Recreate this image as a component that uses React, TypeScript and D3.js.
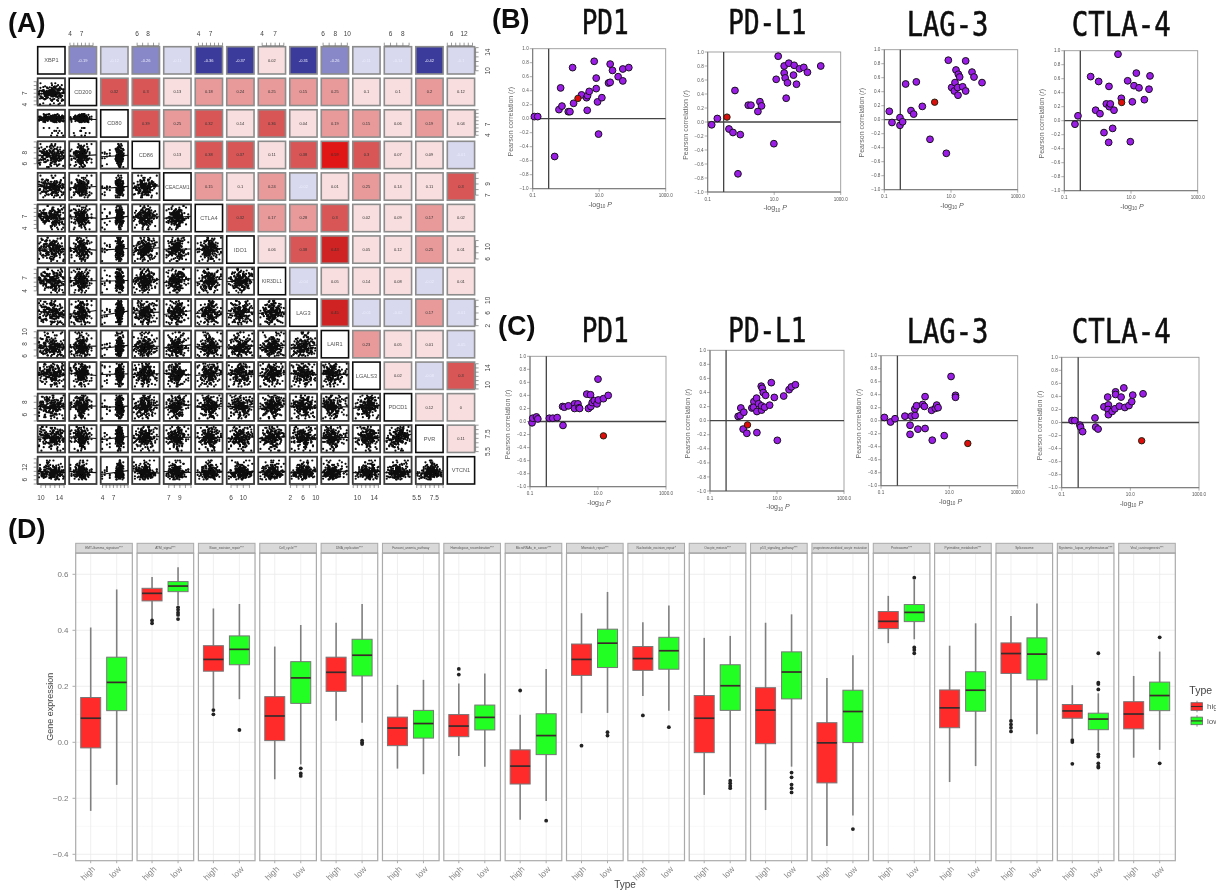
import React from 'react';
import * as d3 from 'd3';

// ---------- panel A: gene pairs ----------
const genes = ['XBP1', 'CD200', 'CD80', 'CD86', 'CEACAM1', 'CTLA4', 'IDO1', 'KIR3DL1', 'LAG3', 'LAIR1', 'LGALS3', 'PDCD1', 'PVR', 'VTCN1'];
const geneDomains = [[9.3, 15.2], [3.8, 10.9], [3.5, 11], [5.1, 10.1], [6.1, 11], [3.2, 10], [4.6, 13.5], [3.1, 9.4], [1.8, 10.4], [5.7, 10.2], [8.9, 15.4], [5, 9.4], [5.4, 8.5], [4, 17]];
const geneTickStep = [1, 1, 1, 1, 1, 1, 2, 1, 2, 1, 1, 1, 0.5, 2];
const geneLabels = [[10, 14], [4, 7], [4, 7], [6, 8], [7, 9], [4, 7], [6, 10], [4, 7], [2, 6, 10], [6, 8, 10], [10, 14], [6, 8], [5.5, 7.5], [6, 12]];

// upper triangle, row by row
const corrRows = [
  [-0.19, -0.12, -0.26, -0.11, -0.36, -0.37, 0.02, -0.31, -0.26, -0.11, -0.14, -0.42, -0.1],
  [0.32, 0.3, 0.13, 0.18, 0.24, 0.25, 0.15, 0.25, 0.1, 0.1, 0.2, 0.12],
  [0.39, 0.25, 0.32, 0.14, 0.36, 0.04, 0.19, 0.15, 0.06, 0.19, 0.04],
  [0.13, 0.38, 0.37, 0.11, 0.38, 0.59, 0.3, 0.07, 0.09, -0.01],
  [0.15, 0.1, 0.24, -0.02, 0.01, 0.25, 0.14, 0.11, 0.3],
  [0.32, 0.17, 0.28, 0.3, 0.02, 0.09, 0.17, 0.02],
  [0.06, 0.38, 0.43, 0.05, 0.12, 0.25, 0.01],
  [-0.04, 0.05, 0.14, 0.08, -0.02, 0.01],
  [0.45, -0.01, -0.02, 0.17, -0.01],
  [0.23, 0.05, 0.01, -0.05],
  [0.02, -0.08, 0.3],
  [0.12, 0.0],
  [0.11],
];

// sample values per gene, estimated from the clouds (too dense to read point by point)
const xbp1 = [14.8,12.6,14.1,13.3,10.4,13.9,12.1,14.5,11.3,13.6,14.9,12.9,10.9,13.8,12.4,14.3,11.8,13.1,14.6,12.7,13.5,11.1,12.8,14.0,10.2,13.2,12.3,13.7,11.6,14.2,12.5,10.7,13.4,12.0,13.0,11.4,13.6,9.9,12.6,11.9,12.2,13.3,10.5,12.9,11.2,13.1,9.6,12.4,11.7,10.1,12.7,11.0,13.0,9.8,12.1,11.5,10.6,12.3,10.8,11.3];
const cd200 = [5.2,6.1,4.4,6.8,5.7,6.3,7.4,5.0,6.5,6.0,7.1,5.5,6.6,4.1,6.9,5.9,7.6,6.2,5.4,6.7,7.0,6.4,7.8,6.9,5.8,7.2,6.6,8.1,7.3,6.1,7.5,6.8,7.0,5.6,7.7,6.5,7.1,8.4,6.3,7.4,7.9,7.2,8.6,6.7,7.6,8.2,7.0,9.1,7.5,6.9,8.0,7.3,8.8,7.7,6.4,8.3,7.8,9.6,7.1,8.5];
const cd80 = [3.9,8.1,7.7,5.2,8.4,7.9,8.0,4.6,8.6,8.2,7.8,8.5,7.6,8.3,8.7,8.0,6.0,8.4,7.9,8.8,8.5,9.0,8.2,8.7,8.4,7.8,9.1,8.6,8.9,8.3,8.7,9.2,8.1,8.8,8.5,9.0,8.6,8.3,9.3,8.7,8.9,9.4,8.6,9.1,8.8,9.5,8.4,9.0,9.7,8.9,9.2,8.7,9.6,9.0,9.3,8.5,9.8,9.1,9.4,8.8];
const cd86 = [5.6,6.4,6.9,5.9,7.2,6.5,6.1,7.0,5.4,6.7,7.4,6.3,6.8,5.8,7.1,6.6,7.5,6.2,6.9,7.3,7.0,7.6,6.7,7.3,8.0,7.2,6.6,7.8,7.4,8.2,7.1,7.7,6.9,7.5,8.1,7.3,7.9,6.8,7.6,8.3,8.0,7.5,8.6,7.8,8.2,7.4,8.8,8.1,7.7,9.0,8.4,7.9,8.7,8.3,9.3,8.0,8.5,9.6,8.2,9.1];
const ceacam1 = [7.2,8.1,6.6,8.6,7.6,8.9,7.9,7.0,8.3,9.3,7.5,8.4,6.9,8.0,9.0,7.7,8.5,7.3,8.8,8.2,8.4,7.4,9.1,8.0,8.7,7.8,9.4,8.3,7.1,8.6,8.9,7.6,9.2,8.1,8.5,9.6,7.9,8.8,8.2,9.0,8.6,7.7,9.3,8.4,9.8,8.1,8.9,7.5,9.1,8.7,10.1,8.3,9.5,8.0,8.8,9.7,8.5,10.5,9.0,8.6];
const ctla4 = [4.2,5.7,6.5,4.9,6.1,5.3,7.0,3.8,5.9,6.4,5.0,6.8,5.5,7.3,4.6,6.2,5.8,6.6,5.2,7.1,6.3,7.5,5.6,6.9,7.8,6.0,7.2,5.4,6.7,8.0,6.5,7.4,5.9,7.0,8.3,6.4,7.7,6.8,5.7,7.3,7.9,6.6,8.5,7.1,6.2,8.1,7.6,8.8,6.9,7.4,9.2,7.8,6.7,8.4,7.2,9.6,8.0,7.5,8.7,6.5];
const ido1 = [5.3,7.8,6.5,8.9,7.1,9.5,6.0,8.2,7.4,10.1,5.8,8.6,7.0,9.2,6.8,8.0,10.6,7.6,9.0,6.3,8.4,9.8,7.3,10.3,8.8,7.7,11.0,9.3,8.1,9.9,7.5,10.7,8.5,9.6,11.3,8.3,10.0,7.9,9.1,10.9,9.4,11.6,8.7,10.4,12.2,9.7,8.9,11.1,10.2,12.6,9.2,10.8,11.8,8.6,10.5,12.9,9.9,11.4,10.1,12.0];
const kir3dl1 = [3.6,5.1,6.2,4.4,5.7,4.0,6.6,5.3,4.8,6.0,7.1,5.5,4.6,6.4,5.0,7.4,5.9,6.8,4.2,6.1,5.6,6.9,5.2,7.6,6.3,4.9,7.0,5.8,6.5,8.0,5.4,6.7,7.3,6.0,4.7,7.8,6.2,5.7,7.2,6.6,6.9,5.3,8.3,6.4,7.5,5.9,7.1,8.7,6.1,7.7,6.8,5.6,8.1,7.0,6.3,9.0,7.4,6.5,8.4,7.9];
const lag3 = [2.4,4.2,3.1,5.0,3.7,5.8,4.5,2.9,6.2,3.4,5.4,4.0,6.6,4.8,3.3,5.6,7.0,4.3,6.0,5.2,4.6,6.4,5.1,7.3,3.8,5.7,6.8,4.9,7.6,6.1,5.3,8.0,6.5,4.4,7.1,5.9,6.3,8.4,5.5,7.4,6.7,5.0,8.7,6.9,7.8,5.8,9.1,6.2,7.2,8.2,6.6,9.5,7.0,5.6,8.5,7.5,6.4,9.8,7.7,8.9];
const lair1 = [6.0,6.8,6.3,7.1,6.5,6.9,7.4,6.2,7.0,6.6,7.3,6.4,7.7,6.7,7.2,6.1,7.5,6.9,7.0,6.6,7.2,7.6,6.8,7.9,7.3,7.0,8.2,7.4,6.9,7.7,7.5,8.0,7.1,7.8,6.7,8.4,7.6,7.3,8.1,7.2,7.8,8.5,7.4,8.0,8.8,7.6,8.3,7.9,9.1,7.7,8.6,8.2,9.4,7.5,8.4,9.7,8.1,8.9,9.9,8.7];
const lgals3 = [9.6,11.4,12.6,10.4,13.2,11.9,12.3,10.9,13.6,12.0,11.2,12.8,10.2,13.9,11.7,12.5,13.1,11.0,12.2,14.2,12.7,11.5,13.4,12.1,10.7,13.0,12.4,14.4,11.8,12.9,13.5,11.3,12.6,14.0,10.0,13.3,12.2,11.6,13.7,12.8,14.6,12.0,13.2,11.1,12.5,13.8,12.9,14.1,11.9,13.1,12.3,14.8,12.7,13.5,11.4,13.0,14.3,12.4,15.0,13.3];
const pdcd1 = [5.4,6.6,7.2,6.1,7.6,6.9,5.8,7.3,6.4,8.0,7.0,5.6,6.8,7.5,6.2,7.8,6.7,7.1,5.9,8.3,7.3,6.5,7.7,6.9,8.1,7.0,6.3,7.4,8.5,6.8,7.6,7.1,6.0,7.9,7.2,8.2,6.6,7.5,8.7,7.0,7.8,6.7,8.0,7.3,8.9,7.6,6.4,8.3,7.1,7.7,9.1,7.4,8.4,6.9,7.9,8.6,7.2,8.1,7.5,8.8];
const pvr = [5.8,6.6,7.0,6.3,7.4,6.8,6.1,7.2,6.5,7.7,6.9,7.1,6.4,7.5,6.7,7.3,6.0,6.9,7.6,7.0,6.6,7.2,7.9,6.8,7.4,7.0,6.2,7.6,7.1,8.0,6.7,7.3,6.9,7.8,6.5,7.5,7.1,8.1,6.8,7.2,7.0,7.7,6.6,7.4,8.3,7.1,6.9,7.6,7.3,5.6,7.8,7.0,7.5,6.7,8.2,7.2,6.4,7.4,7.9,7.1];
const vtcn1 = [6.5,9.2,7.8,11.1,8.4,10.2,7.2,9.6,12.4,8.8,10.6,7.5,9.0,11.6,8.1,9.9,6.9,10.9,8.6,9.3,7.7,10.0,8.9,12.0,9.4,6.2,10.4,8.3,11.3,9.7,7.4,10.7,9.1,13.1,8.5,9.8,7.9,11.0,10.3,8.7,9.5,12.8,8.2,10.1,7.6,11.5,9.0,10.5,14.3,8.0,9.6,11.8,7.3,10.8,9.2,13.6,8.6,10.0,12.2,15.2];
const geneSamples = [xbp1, cd200, cd80, cd86, ceacam1, ctla4, ido1, kir3dl1, lag3, lair1, lgals3, pdcd1, pvr, vtcn1];

// the clouds hold hundreds of dots: the typed values are also paired at these
// index offsets to reach that density, so the pairings are not real samples
const pairOffsets = [0, 20, 40];

// ---------- panels B and C: log10 of -log10 P, and Pearson r ----------
const bPd1X = [-0.95,-0.85,-0.34,-0.21,-0.16,-0.12,0.07,0.12,0.2,0.23,0.36,0.47,0.62,0.65,0.7,0.64,0.85,0.91,0.91,0.95,0.98,1.08,1.28,1.33,1.33,1.4,1.57,1.71,1.71,1.89];
const bPd1R = [0.03,0.03,-0.54,0.13,0.44,0.18,0.1,0.1,0.73,0.22,0.29,0.34,0.3,0.33,0.39,0.12,0.82,0.58,0.43,0.24,-0.22,0.3,0.51,0.52,0.78,0.69,0.6,0.71,0.54,0.73];
const bPdl1X = [-0.88,-0.71,-0.42,-0.36,-0.24,-0.02,-0.18,-0.09,0.22,0.3,0.51,0.57,0.62,0.99,1.06,1.12,1.3,1.3,1.33,1.36,1.4,1.44,1.58,1.6,1.67,1.76,1.89,2.0,2.4];
const bPdl1R = [-0.04,0.05,0.07,-0.1,-0.15,-0.18,0.45,-0.74,0.24,0.24,0.15,0.29,0.23,-0.31,0.61,0.94,0.8,0.7,0.63,0.34,0.56,0.84,0.67,0.81,0.54,0.76,0.78,0.71,0.8];
const bLag3X = [-0.85,-0.77,-0.53,-0.53,-0.45,-0.36,-0.2,-0.12,-0.04,0.14,0.37,0.51,0.86,0.92,1.02,1.1,1.12,1.15,1.2,1.22,1.26,1.21,1.35,1.44,1.44,1.63,1.69,1.93];
const bLag3R = [0.12,-0.04,0.03,-0.08,-0.03,0.51,0.13,0.08,0.54,0.19,-0.28,0.25,-0.48,0.85,0.46,0.41,0.53,0.71,0.46,0.65,0.61,0.35,0.47,0.41,0.84,0.68,0.61,0.53];
const bCtla4X = [-0.68,-0.59,-0.21,-0.06,0.03,0.07,0.19,0.26,0.33,0.34,0.35,0.38,0.45,0.49,0.61,0.71,0.72,0.9,0.98,1.04,1.09,1.16,1.24,1.4,1.54,1.57];
const bCtla4R = [-0.05,0.07,0.63,0.15,0.56,0.1,-0.17,0.24,-0.31,0.49,0.2,0.24,-0.11,0.15,0.95,0.32,0.26,0.57,-0.3,0.27,0.5,0.68,0.47,0.3,0.45,0.64];
const cPd1X = [-0.94,-0.92,-0.81,-0.77,-0.43,-0.33,-0.2,-0.03,-0.04,0.01,0.13,0.31,0.31,0.41,0.44,0.46,0.67,0.78,0.72,0.79,0.83,0.89,0.97,1.0,1.01,1.16,1.16,1.3];
const cPd1R = [-0.02,0.05,0.07,0.04,0.05,0.05,0.06,-0.06,0.23,0.22,0.24,0.27,0.2,0.27,0.21,0.2,0.42,0.41,0.2,0.23,0.29,0.32,0.27,0.65,0.33,0.35,-0.22,0.4];
const cPdl1X = [-0.16,-0.1,-0.08,0.01,-0.01,0.1,0.12,0.25,0.31,0.3,0.39,0.4,0.4,0.45,0.54,0.54,0.63,0.53,0.56,0.59,0.66,0.78,0.83,0.92,1.01,1.2,1.36,1.43,1.55];
const cPdl1R = [0.06,0.07,0.18,0.12,-0.12,-0.18,-0.06,0.18,0.27,0.19,0.32,0.13,-0.17,0.24,0.15,0.21,0.19,0.49,0.46,0.4,0.36,0.22,0.54,0.33,-0.28,0.35,0.44,0.48,0.51];
const cLag3X = [-0.9,-0.72,-0.59,-0.3,-0.15,-0.15,-0.11,0,-0.01,0.04,0.08,0.22,0.27,0.29,0.29,0.48,0.5,0.59,0.63,0.67,0.85,1.05,1.18,1.18,1.54];
const cLag3R = [0.05,-0.02,0.03,0.07,-0.07,-0.21,0.07,0.08,0.18,0.23,-0.13,0.25,0.22,0.37,-0.12,0.16,-0.3,0.19,0.24,0.2,-0.23,0.68,0.39,0.36,-0.35];
const cCtla4X = [-0.7,-0.62,-0.47,-0.45,-0.39,-0.03,-0.01,0.06,0.23,0.34,0.36,0.35,0.36,0.47,0.55,0.57,0.57,0.68,0.73,0.81,0.84,0.96,1.04,1.07,1.33,1.37];
const cCtla4R = [0.03,0.03,-0.04,-0.07,-0.14,0.07,-0.07,-0.1,0.24,0.39,0.27,0.2,0.12,0.17,0.21,0.47,0.43,0.25,0.39,0.53,0.23,0.26,0.32,0.42,-0.28,0.44];

// index of the red point in each series
const bHighlights = [10, 2, 11, 16];
const cHighlights = [26, 6, 24, 24];

const xTickValues = [-1, 1, 3];
const xTickLabels = ['0.1', '10.0', '1000.0'];
const rTicks = [1, 0.8, 0.6, 0.4, 0.2, 0, -0.2, -0.4, -0.6, -0.8, -1];
const cutoffLog = -0.52;

// ---------- panel D: boxplots ----------
const pathways = ['EMT-Gamma_signature***', 'ATM_signal***', 'Base_excision_repair***', 'Cell_cycle***', 'DNA_replication***', 'Fanconi_anemia_pathway', 'Homologous_recombination***', 'MicroRNAs_in_cancer***', 'Mismatch_repair***', 'Nucleotide_excision_repair*', 'Oocyte_meiosis***', 'p53_signaling_pathway***', 'progesterone-mediated_oocyte_maturation', 'Proteasome***', 'Pyrimidine_metabolism***', 'Spliceosome', 'Systemic_lupus_erythematosus***', 'Viral_carcinogenesis***'];

const highTop = [0.41,0.59,0.478,0.342,0.427,0.205,0.21,0.098,0.461,0.429,0.373,0.427,0.23,0.523,0.345,0.451,0.204,0.237];
const highQ3 = [0.16,0.55,0.345,0.163,0.304,0.09,0.099,-0.027,0.351,0.342,0.167,0.195,0.07,0.467,0.187,0.355,0.135,0.145];
const highMed = [0.086,0.532,0.296,0.094,0.25,0.051,0.058,-0.085,0.296,0.299,0.086,0.115,-0.002,0.432,0.123,0.317,0.112,0.101];
const highQ1 = [-0.02,0.505,0.254,0.006,0.182,-0.012,0.02,-0.149,0.239,0.257,-0.037,-0.005,-0.145,0.406,0.052,0.246,0.086,0.048];
const highBottom = [-0.245,0.44,0.12,-0.132,0.077,-0.094,-0.049,-0.277,0.104,0.165,-0.188,-0.242,-0.37,0.354,-0.142,0.08,0.014,-0.055];
const highOutliers = [[],[0.435,0.425],[0.115,0.1],[],[],[],[0.262,0.242],[0.185],[-0.012],[0.096],[],[],[],[],[],[0.076,0.064,0.052,0.039],[0.008,0.001,-0.077],[]];

const lowTop = [0.546,0.625,0.494,0.419,0.494,0.223,0.246,0.262,0.537,0.489,0.38,0.457,0.311,0.58,0.425,0.496,0.175,0.324];
const lowQ3 = [0.304,0.574,0.38,0.288,0.368,0.114,0.133,0.102,0.404,0.375,0.277,0.323,0.186,0.492,0.252,0.373,0.104,0.215];
const lowMed = [0.214,0.558,0.332,0.23,0.311,0.067,0.089,0.024,0.354,0.327,0.202,0.251,0.11,0.464,0.186,0.315,0.083,0.167];
const lowQ1 = [0.113,0.538,0.277,0.139,0.237,0.015,0.044,-0.044,0.267,0.261,0.114,0.155,-0.001,0.431,0.111,0.223,0.045,0.113];
const lowBottom = [-0.152,0.49,0.154,-0.079,0.07,-0.114,-0.087,-0.21,0.105,0.113,-0.123,-0.087,-0.261,0.368,-0.085,0.029,-0.033,-0.027];
const lowOutliers = [[],[0.482,0.473,0.463,0.455,0.44],[0.044],[-0.093,-0.111,-0.12],[0.006,-0.001,-0.006],[],[],[-0.28],[0.036,0.024],[0.054],[-0.137,-0.146,-0.156,-0.164],[-0.108,-0.125,-0.151,-0.164,-0.179],[-0.31],[0.588,0.339,0.33,0.318],[],[],[0.318,0.213,0.208,0.189,-0.043,-0.051,-0.075,-0.085,-0.09],[0.375,-0.075]];

const geneTypes = ['high', 'low'];
const typeColors = ['#ff2a2a', '#22ff22'];
const exprTicks = [0.6, 0.4, 0.2, 0, -0.2, -0.4];
const exprMinor = [0.5, 0.3, 0.1, -0.1, -0.3];

const SANS = '"Liberation Sans", Arial, sans-serif';
const MONO = '"DejaVu Sans Mono", monospace';

const corrColor = d3.scaleThreshold<number, string>()
  .domain([-0.3, -0.15, 0, 0.15, 0.3, 0.4, 0.5])
  .range(['#3a3a9c', '#8888c8', '#d8d8ee', '#f8dede', '#e89a9a', '#d95757', '#cf2424', '#e01515']);

function tickRange(d: number[], step: number) {
  const start = Math.ceil(d[0] / step) * step;
  return d3.range(start, d[1] + 1e-6, step);
}

function regression(pts: number[][]) {
  const mx = d3.mean(pts, (p) => p[0]) as number;
  const my = d3.mean(pts, (p) => p[1]) as number;
  const sxy = d3.sum(pts, (p) => (p[0] - mx) * (p[1] - my));
  const sxx = d3.sum(pts, (p) => (p[0] - mx) * (p[0] - mx));
  const slope = sxy / sxx;
  return (x: number) => my + slope * (x - mx);
}

function pairs(col: number, row: number) {
  const xs = geneSamples[col];
  const ys = geneSamples[row];
  return pairOffsets.flatMap((off) => xs.map((x, i) => [x, ys[(i + off) % ys.length]]));
}

function PairsPanel() {
  const size = 27.3;
  const pos = d3.scaleLinear().domain([0, genes.length - 1]).range([37.7, 447.3]);
  const rowPos = d3.scaleLinear().domain([0, genes.length - 1]).range([46.7, 456.7]);
  const bottom = rowPos(13) + size;
  const right = pos(13) + size;

  return (
    <g>
      {genes.map((gene, row) =>
        genes.map((_, col) => {
          const x = pos(col);
          const y = rowPos(row);
          if (row === col) {
            return (
              <g key={`${row}-${col}`}>
                <rect x={x} y={y} width={size} height={size} fill="#fff" stroke="#111" strokeWidth={1.6} />
                <text x={x + size / 2} y={y + size / 2 + 2} textAnchor="middle" fontSize={gene.length > 6 ? 5 : 5.6} fill="#555" fontFamily={SANS}>{gene}</text>
              </g>
            );
          }
          if (col > row) {
            const r = corrRows[row][col - row - 1];
            const neg = r < 0;
            return (
              <g key={`${row}-${col}`}>
                <rect x={x} y={y} width={size} height={size} fill={corrColor(r)} stroke="#8c8c8c" strokeWidth={1.6} />
                <text x={x + size / 2} y={y + size / 2 + 1.4} textAnchor="middle" fontSize={4} fill={neg ? '#eeeeff' : '#333'} fontFamily={SANS}>{r}</text>
              </g>
            );
          }
          const sx = d3.scaleLinear().domain(geneDomains[col]).range([x, x + size]);
          const sy = d3.scaleLinear().domain(geneDomains[row]).range([y + size, y]);
          const pts = pairs(col, row);
          const fit = regression(pts);
          const d0 = geneDomains[col][0];
          const d1 = geneDomains[col][1];
          return (
            <g key={`${row}-${col}`}>
              <rect x={x} y={y} width={size} height={size} fill="#fff" stroke="#3a3a3a" strokeWidth={1.8} />
              <g clipPath={`url(#cell-${row}-${col})`}>
                <clipPath id={`cell-${row}-${col}`}><rect x={x} y={y} width={size} height={size} /></clipPath>
                {pts.map((p, i) => (
                  <circle key={i} cx={sx(p[0])} cy={sy(p[1])} r={1.1} fill="#0a0a0a" />
                ))}
                <line x1={sx(d0)} x2={sx(d1)} y1={sy(fit(d0))} y2={sy(fit(d1))} stroke="#111" strokeWidth={1.1} />
              </g>
            </g>
          );
        }),
      )}
      {genes.map((_, i) => {
        const sx = d3.scaleLinear().domain(geneDomains[i]).range([pos(i), pos(i) + size]);
        const sy = d3.scaleLinear().domain(geneDomains[i]).range([rowPos(i) + size, rowPos(i)]);
        const ticks = tickRange(geneDomains[i], geneTickStep[i]);
        const atBottom = i % 2 === 0;
        const atRight = i % 2 === 0;
        const axisY = atBottom ? bottom + 1 : rowPos(0) - 1;
        const axisX = atRight ? right + 1 : pos(0) - 1;
        const dirY = atBottom ? 3 : -3;
        const dirX = atRight ? 3 : -3;
        const labelX = atRight ? right + 15 : pos(0) - 11;
        return (
          <g key={i} stroke="#555" strokeWidth={0.6} fontFamily={SANS}>
            <line x1={sx(ticks[0])} x2={sx(ticks[ticks.length - 1])} y1={axisY} y2={axisY} />
            {ticks.map((t) => <line key={t} x1={sx(t)} x2={sx(t)} y1={axisY} y2={axisY + dirY} />)}
            <line y1={sy(ticks[0])} y2={sy(ticks[ticks.length - 1])} x1={axisX} x2={axisX} />
            {ticks.map((t) => <line key={t} y1={sy(t)} y2={sy(t)} x1={axisX} x2={axisX + dirX} />)}
            {geneLabels[i].map((t) => (
              <text key={t} x={sx(t)} y={atBottom ? 500 : 36} textAnchor="middle" fontSize={6.5} fill="#444" stroke="none">{t}</text>
            ))}
            {geneLabels[i].map((t) => (
              <text key={t} transform={`translate(${labelX},${sy(t)}) rotate(-90)`} textAnchor="middle" fontSize={6.5} fill="#444" stroke="none">{t}</text>
            ))}
          </g>
        );
      })}
    </g>
  );
}

type FrameBox = { x0: number; x1: number; y0: number; y1: number };

function VolcanoPanel({ frame, xs, rs, red }: { frame: FrameBox; xs: number[]; rs: number[]; red: number }) {
  const sx = d3.scaleLinear().domain([-1, 3]).range([frame.x0, frame.x1]);
  const sy = d3.scaleLinear().domain([-1, 1]).range([frame.y1, frame.y0]);
  const cx = frame.x0;
  const labelColor = '#555';
  return (
    <g fontFamily={SANS}>
      <rect x={frame.x0} y={frame.y0} width={frame.x1 - frame.x0} height={frame.y1 - frame.y0} fill="#fff" stroke="#999" strokeWidth={0.9} />
      <line x1={frame.x0} x2={frame.x0} y1={frame.y0} y2={frame.y1} stroke="#777" strokeWidth={1} />
      <line x1={frame.x0} x2={frame.x1} y1={frame.y1} y2={frame.y1} stroke="#777" strokeWidth={1} />
      <line x1={frame.x0} x2={frame.x1} y1={sy(0)} y2={sy(0)} stroke="#444" strokeWidth={1.3} />
      <line x1={sx(cutoffLog)} x2={sx(cutoffLog)} y1={frame.y0} y2={frame.y1} stroke="#444" strokeWidth={1.3} />
      {rTicks.map((t) => (
        <g key={t}>
          <line x1={cx - 3} x2={cx} y1={sy(t)} y2={sy(t)} stroke="#777" strokeWidth={0.6} />
          <text x={cx - 4} y={sy(t) + 1.6} textAnchor="end" fontSize={4.6} fill={labelColor}>{d3.format('.1f')(t).replace('-', '\u2212')}</text>
        </g>
      ))}
      {xTickValues.map((t, i) => (
        <g key={t}>
          <line x1={sx(t)} x2={sx(t)} y1={frame.y1} y2={frame.y1 + 3} stroke="#777" strokeWidth={0.6} />
          <text x={sx(t)} y={frame.y1 + 8.5} textAnchor="middle" fontSize={4.6} fill={labelColor}>{xTickLabels[i]}</text>
        </g>
      ))}
      <text transform={`translate(${frame.x0 - 20},${(frame.y0 + frame.y1) / 2 + 3}) rotate(-90)`} textAnchor="middle" fontSize={7} fill="#666">Pearson correlation (<tspan fontStyle="italic">r</tspan>)</text>
      <text x={sx(1) + 1} y={frame.y1 + 18} textAnchor="middle" fontSize={7} fill="#555">
        -log<tspan fontSize={4.6} dy={1.5}>10</tspan><tspan dy={-1.5} fontStyle="italic"> P</tspan>
      </text>
      {xs.map((x, i) => (i === red ? null : (
        <circle key={i} cx={sx(x)} cy={sy(rs[i])} r={3.4} fill="#9a1fe6" stroke="#1a1020" strokeWidth={1} />
      )))}
      <circle cx={sx(xs[red])} cy={sy(rs[red])} r={3.2} fill="#e01010" stroke="#221" strokeWidth={1} />
    </g>
  );
}

const volcanoB = [
  { name: 'PD1', xs: bPd1X, rs: bPd1R, frame: { x0: 532.7, x1: 665.7, y0: 48.7, y1: 188.7 }, tx: 581.7, tw: 47, ty: 34 },
  { name: 'PD-L1', xs: bPdl1X, rs: bPdl1R, frame: { x0: 707.7, x1: 840.7, y0: 52, y1: 192 }, tx: 728.3, tw: 78, ty: 34 },
  { name: 'LAG-3', xs: bLag3X, rs: bLag3R, frame: { x0: 884.3, x1: 1017.7, y0: 49.7, y1: 189.7 }, tx: 906.7, tw: 81.7, ty: 36 },
  { name: 'CTLA-4', xs: bCtla4X, rs: bCtla4R, frame: { x0: 1064.3, x1: 1197.7, y0: 50.7, y1: 190.7 }, tx: 1071.7, tw: 99, ty: 36 },
];
const volcanoC = [
  { name: 'PD1', xs: cPd1X, rs: cPd1R, frame: { x0: 530, x1: 666, y0: 356.3, y1: 486.7 }, tx: 581.7, tw: 47, ty: 342 },
  { name: 'PD-L1', xs: cPdl1X, rs: cPdl1R, frame: { x0: 710, x1: 844, y0: 350.3, y1: 491 }, tx: 728.3, tw: 78, ty: 342 },
  { name: 'LAG-3', xs: cLag3X, rs: cLag3R, frame: { x0: 881, x1: 1017.7, y0: 355.7, y1: 485.7 }, tx: 906.7, tw: 81.7, ty: 343 },
  { name: 'CTLA-4', xs: cCtla4X, rs: cCtla4R, frame: { x0: 1061.7, x1: 1199, y0: 357.3, y1: 487.7 }, tx: 1071.7, tw: 99, ty: 343 },
];

function BoxFacets() {
  const facet = d3.scaleBand().domain(pathways).range([75.7, 1175.3]).paddingInner(0.077);
  const inner = d3.scalePoint().domain(geneTypes).range([15, 41]);
  const top = 553.3;
  const bottom = 860.7;
  const y = d3.scaleLinear().domain([0, 0.6]).range([742.3, 574.3]);
  const boxW = 20;
  const bw = facet.bandwidth();
  const series = [
    { top: highTop, q3: highQ3, med: highMed, q1: highQ1, bottom: highBottom, out: highOutliers },
    { top: lowTop, q3: lowQ3, med: lowMed, q1: lowQ1, bottom: lowBottom, out: lowOutliers },
  ];
  return (
    <g fontFamily={SANS}>
      {exprTicks.map((t) => (
        <g key={t}>
          <text x={68.5} y={y(t) + 3} textAnchor="end" fontSize={8} fill="#777">{d3.format('.1f')(t).replace('-', '\u2212')}</text>
          <line x1={72.5} x2={75.7} y1={y(t)} y2={y(t)} stroke="#888" strokeWidth={0.7} />
        </g>
      ))}
      <text transform="translate(52.5,706.7) rotate(-90)" textAnchor="middle" fontSize={9} fill="#444">Gene expression</text>
      <text x={625} y={888} textAnchor="middle" fontSize={10} fill="#444">Type</text>
      {pathways.map((name, f) => {
        const fx = facet(name) as number;
        return (
          <g key={name}>
            <rect x={fx} y={543.3} width={bw} height={top - 543.3} fill="#d9d9d9" stroke="#aaa" strokeWidth={1} />
            <line x1={fx} x2={fx + bw} y1={top} y2={top} stroke="#666" strokeWidth={0.9} />
            <text x={fx + bw / 2} y={549.2} textAnchor="middle" fontSize={3.2} fill="#555" textLength={name.length > 30 ? bw - 3 : undefined} lengthAdjust="spacingAndGlyphs">{name}</text>
            <rect x={fx} y={top} width={bw} height={bottom - top} fill="#fff" />
            {exprMinor.map((t) => <line key={t} x1={fx} x2={fx + bw} y1={y(t)} y2={y(t)} stroke="#f4f4f4" strokeWidth={0.6} />)}
            {exprTicks.map((t) => <line key={t} x1={fx} x2={fx + bw} y1={y(t)} y2={y(t)} stroke="#ebebeb" strokeWidth={0.8} />)}
            {geneTypes.map((type) => {
              const cx = fx + (inner(type) as number);
              return <line key={type} x1={cx} x2={cx} y1={top} y2={bottom} stroke="#ebebeb" strokeWidth={0.8} />;
            })}
            {geneTypes.map((type, k) => {
              const cx = fx + (inner(type) as number);
              const s = series[k];
              return (
                <g key={type}>
                  <line x1={cx} x2={cx} y1={y(s.top[f])} y2={y(s.bottom[f])} stroke="#808080" strokeWidth={1.6} />
                  <rect x={cx - boxW / 2} y={y(s.q3[f])} width={boxW} height={y(s.q1[f]) - y(s.q3[f])} fill={typeColors[k]} stroke="#777" strokeWidth={1} />
                  <line x1={cx - boxW / 2} x2={cx + boxW / 2} y1={y(s.med[f])} y2={y(s.med[f])} stroke="#3a2a2a" strokeWidth={1.7} />
                  {s.out[f].map((v, i) => <circle key={i} cx={cx} cy={y(v)} r={1.9} fill="#222" />)}
                  <line x1={cx} x2={cx} y1={bottom} y2={bottom + 2.5} stroke="#888" strokeWidth={0.7} />
                  <text transform={`translate(${cx + 2},${bottom + 6}) rotate(-45)`} textAnchor="end" dy="0.5em" fontSize={8.5} fill="#888">{type}</text>
                </g>
              );
            })}
            <rect x={fx} y={top} width={bw} height={bottom - top} fill="none" stroke="#aaa" strokeWidth={1.2} />
          </g>
        );
      })}
      <text x={1189.3} y={694} fontSize={10.5} fill="#444">Type</text>
      {geneTypes.map((type, k) => {
        const ky = 702.7 + k * 14.4;
        return (
          <g key={type}>
            <line x1={1197} x2={1197} y1={ky - 2} y2={ky + 9.6} stroke="#777" strokeWidth={0.8} />
            <rect x={1191} y={ky} width={11.5} height={7.6} fill={typeColors[k]} stroke="#666" strokeWidth={0.8} />
            <line x1={1191} x2={1202.5} y1={ky + 3.8} y2={ky + 3.8} stroke="#3a2a2a" strokeWidth={1.1} />
            <text x={1207} y={ky + 6.6} fontSize={8} fill="#555">{type}</text>
          </g>
        );
      })}
    </g>
  );
}

export default function App() {
  return (
    <svg width={1216} height={891} viewBox="0 0 1216 891" style={{ position: 'absolute', left: 0, top: 0, background: '#fff' }}>
      <defs>
        <filter id="soft" x="0" y="0" width="1216" height="891" filterUnits="userSpaceOnUse" primitiveUnits="userSpaceOnUse">
          <feGaussianBlur stdDeviation="0.6" />
        </filter>
      </defs>
      <g filter="url(#soft)">
        <PairsPanel />
        {volcanoB.map((p, i) => (
          <g key={p.name}>
            <text x={p.tx} y={p.ty} fontFamily={MONO} fontSize={33} fill="#111" stroke="#111" strokeWidth={0.6} textLength={p.tw} lengthAdjust="spacingAndGlyphs">{p.name}</text>
            <VolcanoPanel frame={p.frame} xs={p.xs} rs={p.rs} red={bHighlights[i]} />
          </g>
        ))}
        {volcanoC.map((p, i) => (
          <g key={p.name}>
            <text x={p.tx} y={p.ty} fontFamily={MONO} fontSize={33} fill="#111" stroke="#111" strokeWidth={0.6} textLength={p.tw} lengthAdjust="spacingAndGlyphs">{p.name}</text>
            <VolcanoPanel frame={p.frame} xs={p.xs} rs={p.rs} red={cHighlights[i]} />
          </g>
        ))}
        <BoxFacets />
        <g fontFamily={SANS} fontWeight="bold" fontSize={27} fill="#111">
          <text x={8} y={32}>(A)</text>
          <text x={492} y={28}>(B)</text>
          <text x={498} y={335}>(C)</text>
          <text x={8} y={538}>(D)</text>
        </g>
      </g>
    </svg>
  );
}
